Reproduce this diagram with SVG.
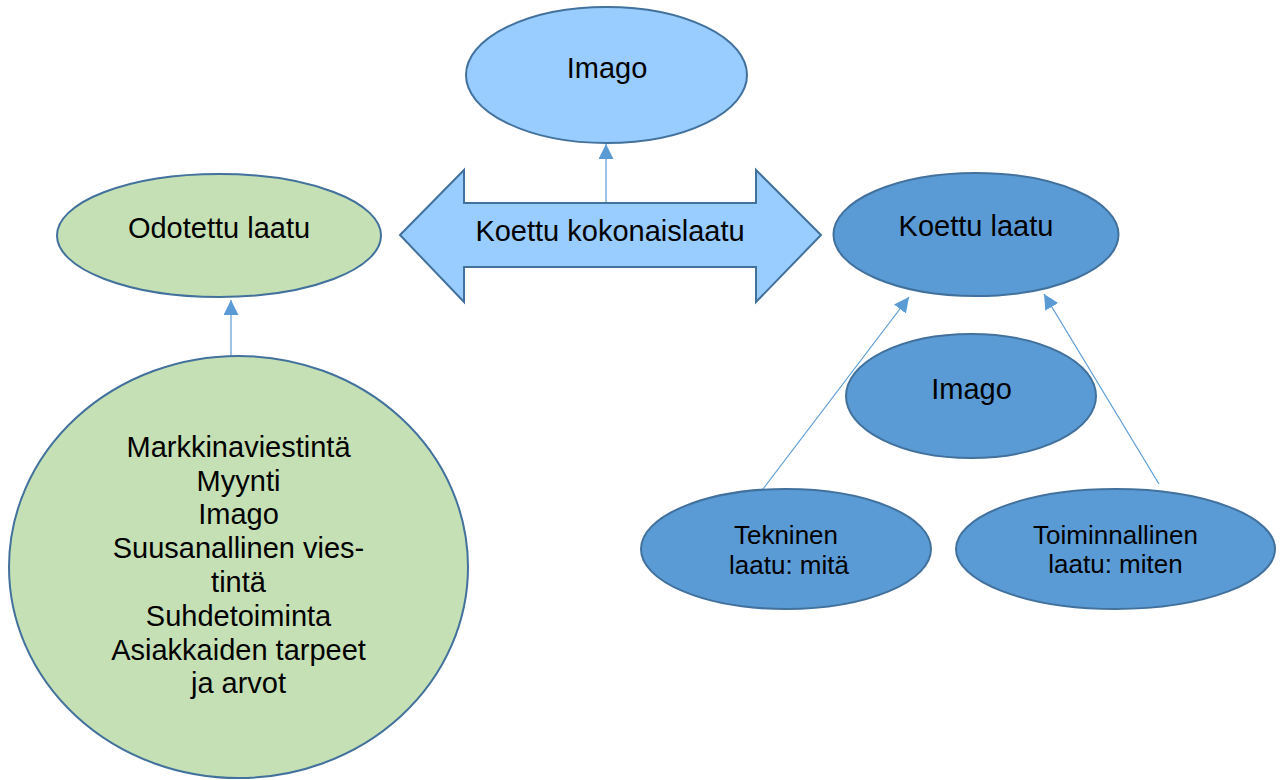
<svg xmlns="http://www.w3.org/2000/svg" width="1280" height="780" viewBox="0 0 1280 780">
  <style>
    .node { stroke: #41719C; stroke-width: 2; }
    .light { fill: #99CCFF; }
    .dark { fill: #5B9BD5; }
    .green { fill: #C5E0B4; }
    .lbl { font-family: "Liberation Sans", Arial, sans-serif; fill: #000; text-anchor: middle; }
    .big { font-size: 29px; }
    .small { font-size: 26px; }
    .conn { stroke: #5B9BD5; stroke-width: 1.2; fill: none; marker-end: url(#arr); }
  </style>
  <defs>
    <marker id="arr" markerUnits="userSpaceOnUse" markerWidth="16" markerHeight="16" refX="15" refY="7.5" orient="auto">
      <path d="M0,0 L15,7.5 L0,15 Z" fill="#5B9BD5"/>
    </marker>
  </defs>
  <rect width="1280" height="780" fill="#FFFFFF"/>

  <g id="connectors">
    <line class="conn" x1="606" y1="203" x2="606" y2="144"/>
    <line class="conn" x1="231" y1="357" x2="231" y2="300"/>
    <line class="conn" x1="763" y1="489" x2="909" y2="297"/>
    <line class="conn" x1="1159" y1="484" x2="1044" y2="294"/>
  </g>

  <g id="imago-top">
    <ellipse class="node light" cx="606.5" cy="75" rx="140.5" ry="68"/>
    <text class="lbl big" x="607" y="78">Imago</text>
  </g>

  <g id="koettu-kokonaislaatu">
    <polygon class="node light" points="400,235 464,170 464,203 756,203 756,170 821,235 756,302 756,267 464,267 464,302"/>
    <text class="lbl big" x="610" y="241">Koettu kokonaislaatu</text>
  </g>

  <g id="odotettu-laatu">
    <ellipse class="node green" cx="219" cy="235.5" rx="162" ry="61.5"/>
    <text class="lbl big" x="219" y="238">Odotettu laatu</text>
  </g>

  <g id="markkinointi">
    <ellipse class="node green" cx="238.5" cy="567" rx="229.5" ry="211"/>
    <text class="lbl big" x="238.5" y="457">Markkinaviestintä</text>
    <text class="lbl big" x="238.5" y="491">Myynti</text>
    <text class="lbl big" x="238.5" y="524">Imago</text>
    <text class="lbl big" x="238.5" y="558">Suusanallinen vies-</text>
    <text class="lbl big" x="238.5" y="592">tintä</text>
    <text class="lbl big" x="238.5" y="626">Suhdetoiminta</text>
    <text class="lbl big" x="238.5" y="660">Asiakkaiden tarpeet</text>
    <text class="lbl big" x="238.5" y="693">ja arvot</text>
  </g>

  <g id="koettu-laatu">
    <ellipse class="node dark" cx="976" cy="234.5" rx="142.5" ry="61.5"/>
    <text class="lbl big" x="976" y="236">Koettu laatu</text>
  </g>

  <g id="imago-mid">
    <ellipse class="node dark" cx="971" cy="396" rx="125" ry="62"/>
    <text class="lbl big" x="971.5" y="399">Imago</text>
  </g>

  <g id="tekninen">
    <ellipse class="node dark" cx="786" cy="549" rx="145" ry="60"/>
    <text class="lbl small" x="786" y="544">Tekninen</text>
    <text class="lbl small" x="789" y="574">laatu: mitä</text>
  </g>

  <g id="toiminnallinen">
    <ellipse class="node dark" cx="1115.5" cy="549" rx="159.5" ry="60"/>
    <text class="lbl small" x="1115.5" y="544">Toiminnallinen</text>
    <text class="lbl small" x="1115.5" y="573">laatu: miten</text>
  </g>
</svg>
